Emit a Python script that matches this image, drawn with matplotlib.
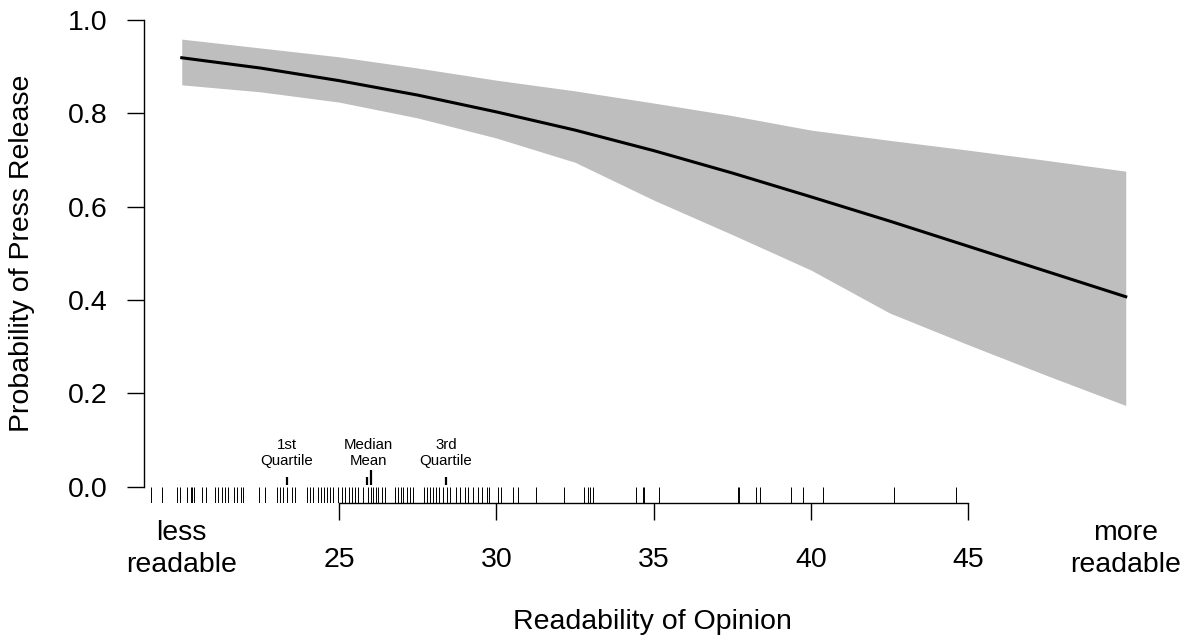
import numpy as np
import matplotlib.pyplot as plt

plt.rcParams['font.family'] = ['Liberation Sans', 'DejaVu Sans']

# predicted probability and simulation band
readability = [20, 22.5, 25, 27.5, 30, 32.5, 35, 37.5, 40, 42.5, 45, 47.5, 50]
prob = [0.919, 0.897, 0.870, 0.839, 0.803, 0.764, 0.720, 0.672, 0.621, 0.569, 0.515, 0.461, 0.407]
band_hi = [0.959, 0.940, 0.921, 0.897, 0.871, 0.848, 0.822, 0.795, 0.764, 0.742, 0.721, 0.699, 0.676]
band_lo = [0.861, 0.846, 0.824, 0.790, 0.747, 0.695, 0.614, 0.540, 0.464, 0.372, 0.304, 0.238, 0.174]

# observed readability scores (rug)
rug_x = [19.02, 19.37, 19.84, 19.95, 20.16, 20.29, 20.34, 20.39, 20.64, 20.76,
         21.06, 21.16, 21.27, 21.38, 21.48, 21.67, 21.77, 21.88, 21.96, 22.46,
         22.63, 23.02, 23.13, 23.23, 23.34, 23.50, 23.60, 23.97, 24.08, 24.18,
         24.34, 24.43, 24.52, 24.61, 24.71, 24.82, 24.96, 25.09, 25.19, 25.32,
         25.42, 25.51, 25.61, 25.77, 25.93, 26.01, 26.09, 26.18, 26.25, 26.36,
         26.46, 26.78, 26.88, 26.96, 27.04, 27.15, 27.26, 27.34, 27.70, 27.79,
         27.89, 27.98, 28.08, 28.16, 28.31, 28.42, 28.53, 28.73, 28.85, 29.00,
         29.11, 29.26, 29.40, 29.53, 29.69, 29.77, 30.05, 30.13, 30.54, 30.70,
         31.26, 32.15, 32.77, 32.90, 32.98, 33.07, 34.44, 34.65, 34.70, 35.18,
         37.68, 37.71, 38.25, 38.39, 39.35, 39.73, 40.37, 42.65, 44.59]

q1, median, mean, q3 = 23.34, 25.88, 26.01, 28.40

x_ticks = [25, 30, 35, 40, 45]
y_ticks = [0.0, 0.2, 0.4, 0.6, 0.8, 1.0]
end_labels = {20: 'less\nreadable', 50: 'more\nreadable'}

fs = 20.5

fig = plt.figure(figsize=(11.88, 6.41), dpi=100)
ax = fig.add_axes([144 / 1188, 1 - 503 / 641, (1163.5 - 144) / 1188, (503 - 1.3) / 641])

ax.fill_between(readability, band_lo, band_hi, color='#BEBEBE', linewidth=0)
ax.plot(readability, prob, color='black', linewidth=2.2)

ax.vlines(rug_x, -0.035, 0.0, color='black', linewidth=0.7)
for v, h in [(q1, 0.016), (median, 0.016), (mean, 0.032), (q3, 0.016)]:
    ax.vlines(v, 0.004, 0.004 + h, color='black', linewidth=1.6)

lab_kw = dict(ha='center', va='center', fontsize=10.8, linespacing=1.19)
ax.text(q1, 0.072, '1st\nQuartile', **lab_kw)
ax.text((median + mean) / 2, 0.072, 'Median\nMean', **lab_kw)
ax.text(q3, 0.072, '3rd\nQuartile', **lab_kw)

ax.set_xlim(18.8, 51.2)
ax.set_ylim(-0.035, 1.04)

for side in ['top', 'right']:
    ax.spines[side].set_visible(False)
ax.spines['left'].set_bounds(0, 1)
ax.spines['bottom'].set_bounds(25, 45)
for side in ['left', 'bottom']:
    ax.spines[side].set_linewidth(1.0)

ax.set_xticks(x_ticks)
ax.set_xticklabels([str(t) for t in x_ticks])
ax.set_yticks(y_ticks)
ax.set_yticklabels(['%.1f' % t for t in y_ticks])
ax.tick_params(axis='both', direction='out', length=12.5, width=1.0, labelsize=fs)
ax.tick_params(axis='x', pad=19)
ax.tick_params(axis='y', pad=13.5)

for xv, lab in end_labels.items():
    ax.text(xv, -0.1335, lab, ha='center', va='center', fontsize=fs, linespacing=1.3)

fig.text(652 / 1188, 1 - 622 / 641, 'Readability of Opinion', ha='center', va='center',
         fontsize=fs)
fig.text(22 / 1188, 1 - 253 / 641, 'Probability of Press Release', ha='center', va='center',
         rotation=90, fontsize=fs)

fig.savefig('out.png', dpi=100)
